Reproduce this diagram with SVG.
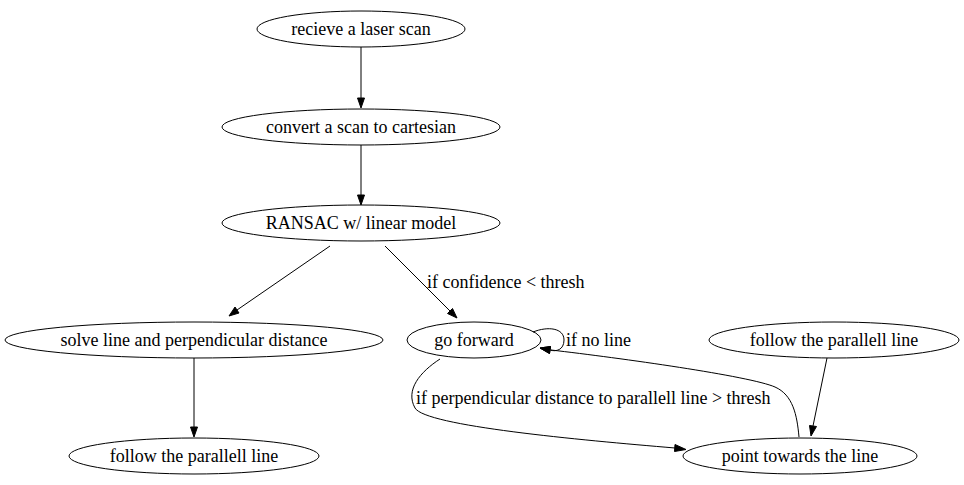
<svg xmlns="http://www.w3.org/2000/svg" width="964" height="485" viewBox="0 0 964 485">
<style>
.n ellipse{fill:none;stroke:#000;stroke-width:1}
text{font-family:"Liberation Serif","Times New Roman",serif;font-size:18px;fill:#000}
.n text{text-anchor:middle}
.e path{fill:none;stroke:#000;stroke-width:1}
.e polygon{fill:#000;stroke:#000;stroke-width:1}
</style>
<rect width="964" height="485" fill="#fff"/>
<g id="n1" class="n"><ellipse cx="361" cy="29" rx="104" ry="18"/><text x="361" y="35">recieve a laser scan</text></g>
<g id="n2" class="n"><ellipse cx="361" cy="127" rx="139" ry="18"/><text x="361" y="133">convert a scan to cartesian</text></g>
<g id="n3" class="n"><ellipse cx="361" cy="223" rx="139" ry="18"/><text x="361" y="229">RANSAC w/ linear model</text></g>
<g id="n4" class="n"><ellipse cx="194" cy="340" rx="189" ry="18"/><text x="194" y="346">solve line and perpendicular distance</text></g>
<g id="n5" class="n"><ellipse cx="194" cy="456" rx="125" ry="18"/><text x="194" y="462">follow the parallell line</text></g>
<g id="n6" class="n"><ellipse cx="474" cy="340" rx="67" ry="18"/><text x="474" y="346">go forward</text></g>
<g id="n7" class="n"><ellipse cx="834" cy="340" rx="125" ry="18"/><text x="834" y="346">follow the parallell line</text></g>
<g id="n8" class="n"><ellipse cx="800" cy="456" rx="117" ry="18"/><text x="800" y="462">point towards the line</text></g>
<g id="edges" class="e">
<path d="M361,47 L361,98"/><polygon points="357.5,98 361,108 364.5,98"/>
<path d="M361,145 L361,195"/><polygon points="357.5,195 361,205 364.5,195"/>
<path d="M330,246 L237,310"/><polygon points="235,307 229,316 239,313"/>
<path d="M385,246 L450,311"/><polygon points="447.5,313.5 457,318 452.5,308.5"/>
<path d="M194,358 L194,427"/><polygon points="190.5,427 194,437 197.5,427"/>
<path d="M533,332 C548,326 564,328 564,340 C564,350 556,352 550,350"/><polygon points="550.5,346.5 540,348 549.5,353.5"/>
<path d="M799,437 C797,415 793,395 775,387 C750,376 620,358 551,350"/><polygon points="550.5,346.5 540,348 549.5,353.5"/>
<path d="M440,359 C420,372 405,390 415,408 C425,426 580,440 675,448"/><polygon points="675,444.5 686,449.5 674.5,451.5"/>
<path d="M827,358 L813,426"/><polygon points="809.5,425.5 811,436 816.5,426.5"/>
<text x="427" y="288">if confidence &lt; thresh</text>
<text x="566" y="346">if no line</text>
<text x="416" y="404">if perpendicular distance to parallell line &gt; thresh</text>
</g>
</svg>
